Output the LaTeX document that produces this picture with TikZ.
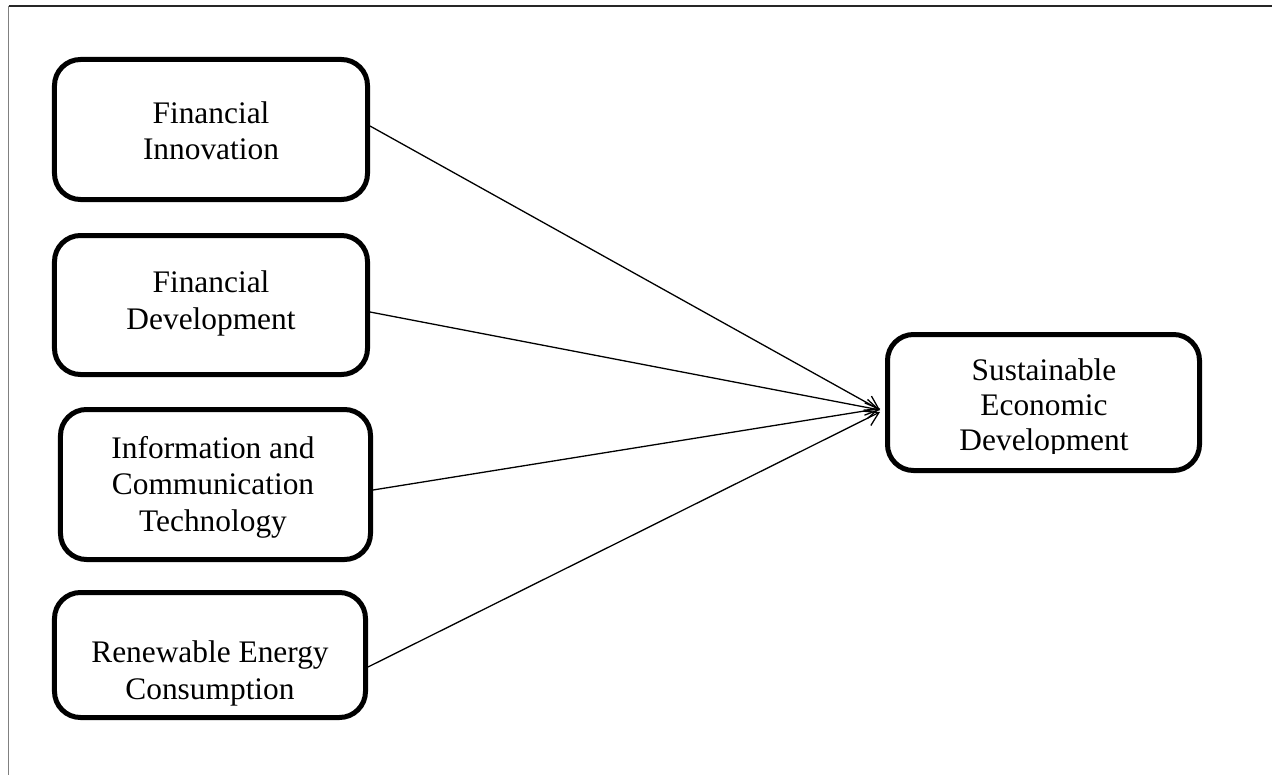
\documentclass[tikz,border=0pt]{standalone}
\usepackage{fontspec}
\setmainfont{Liberation Serif}
\usetikzlibrary{arrows.meta}
\begin{document}
\begin{tikzpicture}[x=1bp,y=-1bp,
  boxstyle/.style={draw=black,line width=5bp,rounded corners=26bp,rectangle,inner sep=0pt},
  txtstyle/.style={align=center,inner sep=0pt,font=\fontsize{31.5}{36.5}\selectfont},
  arr/.style={line width=1.3bp,-{Straight Barb[length=13bp,width=16bp,line width=1.3bp]}}]
\useasboundingbox (0,0) rectangle (1272,775);
\fill[white] (0,0) rectangle (1272,775);
% frame
\coordinate (ftl) at (8.5,6);
\coordinate (ftr) at (1272,6);
\coordinate (fbl) at (8.5,775);
\draw[black!85,line width=1.5bp] (ftl) -- (ftr);
\draw[black!50,line width=1.5bp] (ftl) -- (fbl);
% boxes
\node[boxstyle,minimum width=313bp,minimum height=140bp] (b1) at (211,129.5) {};
\node[boxstyle,minimum width=313bp,minimum height=139bp] (b2) at (211,305) {};
\node[boxstyle,minimum width=310bp,minimum height=150bp] (b3) at (215.5,484.5) {};
\node[boxstyle,minimum width=311bp,minimum height=125bp] (b4) at (210,655) {};
\node[boxstyle,minimum width=312bp,minimum height=136bp] (b5) at (1043.5,402.5) {};
% texts
\node[txtstyle] (t1) at (211,131) {Financial\\Innovation};
\node[txtstyle] (t2) at (211,303.5) {Financial\\Development};
\node[txtstyle] (t3) at (213,487) {Information and\\Communication\\Technology};
\node[txtstyle] (t4) at (210,673.5) {Renewable Energy\\Consumption};
\begin{scope}
\clip (885,332) rectangle (1202,453.5);
\node[txtstyle,font=\fontsize{31.5}{35}\selectfont] (t5) at (1044,408) {Sustainable\\Economic\\Development};
\end{scope}
% arrows
\coordinate (e1) at (880,410);
\coordinate (e2) at (880,410);
\coordinate (e3) at (880,408.5);
\coordinate (e4) at (880,412);
\draw[arr] (b1.east |- 0,126) -- (e1);
\draw[arr] (b2.east |- 0,312) -- (e2);
\draw[arr] (b3.east |- 0,490) -- (e3);
\draw[arr] (b4.east |- 0,667) -- (e4);
\end{tikzpicture}
\end{document}
